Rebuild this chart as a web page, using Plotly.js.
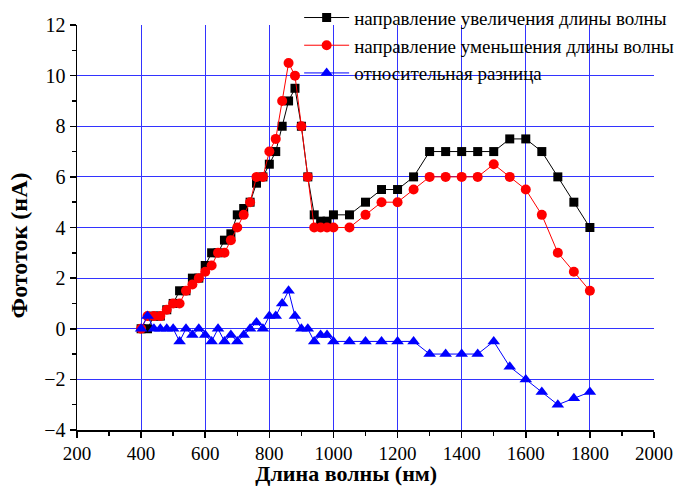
<!DOCTYPE html>
<html>
<head>
<meta charset="utf-8">
<script src="https://cdn.plot.ly/plotly-3.0.1.min.js"></script>
<style>html,body{margin:0;padding:0;background:#fff}#chart{width:677px;height:486px}</style>
</head>
<body>
<div id="chart"></div>
<script>
var wavelength = [400,420,440,460,480,500,520,540,560,580,600,620,640,660,680,700,720,740,760,780,800,820,840,860,880,900,920,940,960,980,1000,1050,1100,1150,1200,1250,1300,1350,1400,1450,1500,1550,1600,1650,1700,1750,1800];
var increasing = [0,0,0.5,0.5,0.75,1,1.5,1.5,2,2,2.5,3,3,3.5,3.75,4.5,4.75,5,5.75,6,6.5,7,8,9,9.5,8,6,4.5,4.25,4.25,4.5,4.5,5,5.5,5.5,6,7,7,7,7,7,7.5,7.5,7,6,5,4];
var decreasing = [0,0.5,0.5,0.5,0.75,1,1,1.5,1.75,2,2.25,2.5,3,3,3.5,4,4.5,5,6,6,7,7.5,9,10.5,10,8,6,4,4,4,4,4,4.5,5,5,5.5,6,6,6,6,6.5,6,5.5,4.5,3,2.25,1.5];
var difference = [0,0.5,0,0,0,0,-0.5,0,-0.25,0,-0.25,-0.5,0,-0.5,-0.25,-0.5,-0.25,0,0.25,0,0.5,0.5,1,1.5,0.5,0,0,-0.5,-0.25,-0.25,-0.5,-0.5,-0.5,-0.5,-0.5,-0.5,-1,-1,-1,-1,-0.5,-1.5,-2,-2.5,-3,-2.75,-2.5];
var seriesNames = ['направление увеличения длины волны','направление уменьшения длины волны','относительная разница'];
var xTitle = 'Длина волны (нм)';
var yTitle = 'Фототок (нА)';

var serif = '"Liberation Serif", "DejaVu Serif", serif';
var pad = '\u00A0\u00A0\u00A0\u00A0\u00A0\u00A0\u00A0';
var traces = [
  {x: wavelength, y: increasing, name: seriesNames[0], type: 'scatter', mode: 'lines+markers',
   line: {color: '#000000', width: 1}, marker: {symbol: 'square', size: 9, color: '#000000'}},
  {x: wavelength, y: decreasing, name: seriesNames[1], type: 'scatter', mode: 'lines+markers',
   line: {color: '#ff0000', width: 1}, marker: {symbol: 'circle', size: 10, color: '#ff0000'}},
  {x: wavelength, y: difference, name: seriesNames[2], type: 'scatter', mode: 'lines+markers',
   line: {color: '#0000ff', width: 1}, marker: {symbol: 'triangle-up', size: 11, color: '#0000ff'}}
];
var layout = {
  width: 677, height: 486,
  margin: {l: 77, r: 23, t: 25, b: 56, autoexpand: false},
  paper_bgcolor: '#ffffff', plot_bgcolor: '#ffffff',
  font: {family: serif, size: 19, color: '#000'},
  showlegend: true,
  legend: {x: 0.385, y: 1.065, xanchor: 'left', yanchor: 'top', bgcolor: 'rgba(0,0,0,0)',
           font: {family: serif, size: 19, color: '#000'}, tracegroupgap: 0, itemwidth: 45},
  xaxis: {range: [200, 2000], dtick: 200, tick0: 200, showline: true, linecolor: '#000', linewidth: 1.5,
          automargin: false,
          ticks: 'outside', ticklen: 6, tickwidth: 1.5, tickcolor: '#000',
          minor: {ticks: 'outside', dtick: 100, ticklen: 4, tickwidth: 1.5, tickcolor: '#000', showgrid: false},
          showgrid: true, gridcolor: '#3333ff', gridwidth: 1, zeroline: false,
          tickfont: {family: serif, size: 19},
          title: {text: '<b>' + xTitle + pad + '</b>', font: {family: serif, size: 22}, standoff: 8}},
  yaxis: {range: [-4, 12], dtick: 2, tick0: 0, showline: true, linecolor: '#000', linewidth: 1.5,
          automargin: false,
          ticks: 'outside', ticklen: 6, tickwidth: 1.5, tickcolor: '#000',
          minor: {ticks: 'outside', dtick: 1, ticklen: 4, tickwidth: 1.5, tickcolor: '#000', showgrid: false},
          showgrid: true, gridcolor: '#3333ff', gridwidth: 1, zeroline: false,
          tickfont: {family: serif, size: 20},
          title: {text: '<b>' + yTitle + pad.slice(0, 6) + '</b>', font: {family: serif, size: 24}, standoff: 10}}
};
Plotly.newPlot('chart', traces, layout, {displayModeBar: false, staticPlot: true});
</script>
</body>
</html>
